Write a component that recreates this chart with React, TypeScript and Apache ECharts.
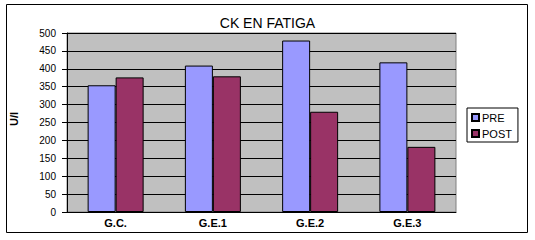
import React, { useEffect, useRef } from "react";
import * as echarts from "echarts";

const categories = ["G.C.", "G.E.1", "G.E.2", "G.E.3"];
const preValues = [354, 409, 479, 418];
const postValues = [376, 379, 280, 182];
const seriesNames = ["PRE", "POST"];
const chartTitle = "CK EN FATIGA";
const yAxisTitle = "U/l";

export default function App() {
  const ref = useRef<HTMLDivElement>(null);
  useEffect(() => {
    if (!ref.current) return;
    const chart = echarts.init(ref.current, null, { renderer: "svg" });
    const font = "Arial, 'Liberation Sans', sans-serif";
    chart.setOption({
      animation: false,
      backgroundColor: "#ffffff",
      title: {
        text: chartTitle,
        left: "center",
        top: 11,
        textStyle: { fontFamily: font, fontSize: 14, fontWeight: "normal", color: "#000" },
      },
      legend: {
        data: seriesNames,
        orient: "vertical",
        left: 467,
        top: 108,
        width: 56,
        padding: [4, 6, 3, 4],
        itemGap: 5,
        itemWidth: 7,
        itemHeight: 7,
        icon: "rect",
        borderColor: "#000",
        borderWidth: 1,
        backgroundColor: "#fff",
        textStyle: { fontFamily: font, fontSize: 11, color: "#000", padding: [0, 0, 0, -2] },
      },
      grid: {
        left: 67,
        top: 33,
        right: 79,
        bottom: 28,
        show: true,
        backgroundColor: "#C0C0C0",
        borderColor: "#808080",
        borderWidth: 1,
      },
      xAxis: {
        type: "category",
        data: categories,
        axisLine: { show: true, lineStyle: { color: "#000", width: 1 } },
        axisTick: { show: false },
        axisLabel: { fontFamily: font, fontSize: 11, fontWeight: "bold", color: "#000", margin: 5 },
      },
      yAxis: {
        type: "value",
        min: 0,
        max: 500,
        interval: 50,
        axisLine: { show: true, lineStyle: { color: "#000", width: 1 } },
        axisTick: { show: true, length: 5, lineStyle: { color: "#000" } },
        axisLabel: { fontFamily: font, fontSize: 10, color: "#000", margin: 11 },
        splitLine: { show: true, lineStyle: { color: "#000", width: 1 } },
      },
      graphic: [
        {
          type: "rect",
          shape: { x: 6.5, y: 4.5, width: 521, height: 228 },
          style: { fill: "none", stroke: "#000", lineWidth: 1 },
          silent: true,
          z: 100,
        },
        {
          type: "text",
          x: 13.5,
          y: 119,
          rotation: Math.PI / 2,
          style: {
            text: yAxisTitle,
            fontFamily: font,
            fontSize: 11,
            fontWeight: "bold",
            fill: "#000",
            align: "center",
            verticalAlign: "middle",
          },
        },
      ],
      series: [
        {
          name: seriesNames[0],
          type: "bar",
          data: preValues,
          barWidth: 28,
          barGap: "0%",
          itemStyle: { color: "#9999FF", borderColor: "#000", borderWidth: 1 },
        },
        {
          name: seriesNames[1],
          type: "bar",
          data: postValues,
          barWidth: 28,
          barGap: "0%",
          itemStyle: { color: "#993366", borderColor: "#000", borderWidth: 1 },
        },
      ],
    });
    return () => chart.dispose();
  }, []);
  return (
    <div
      ref={ref}
      style={{ position: "fixed", left: 0, top: 0, width: 535, height: 240 }}
    />
  );
}
